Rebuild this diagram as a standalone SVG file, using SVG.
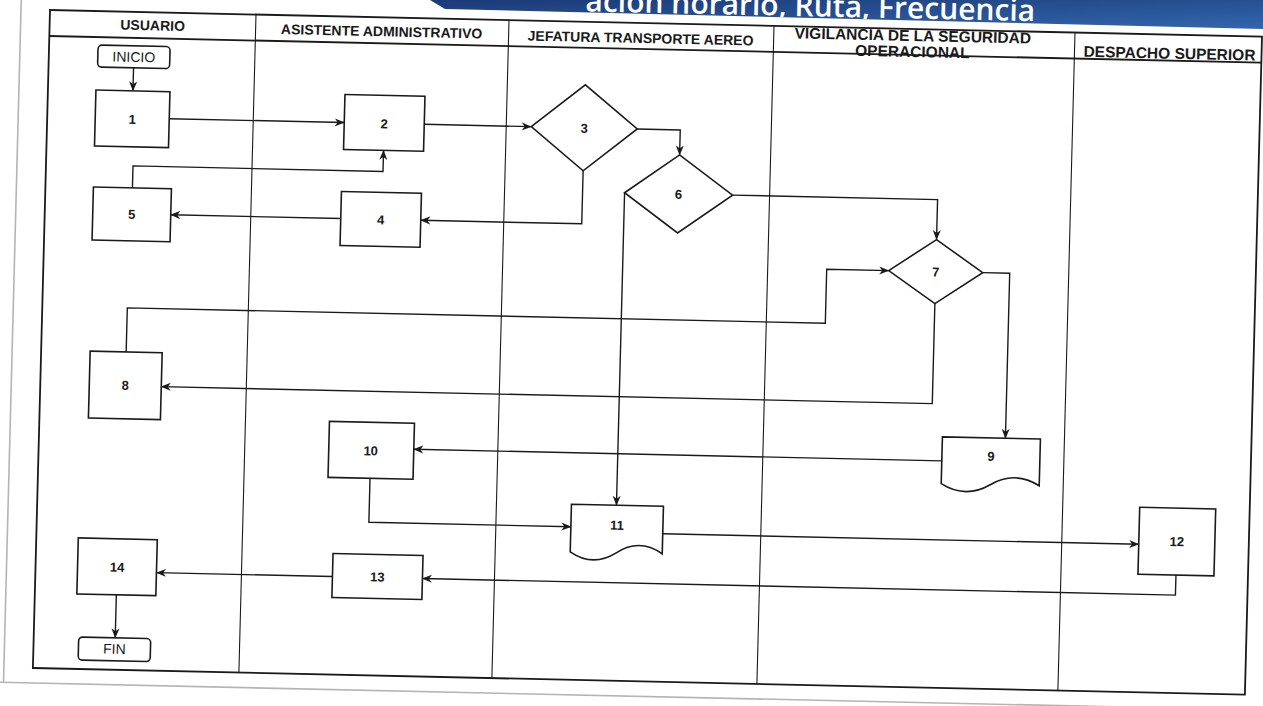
<svg xmlns="http://www.w3.org/2000/svg" width="1263" height="706" viewBox="0 0 1263 706">
<defs>
<style>
.frame{fill:none;stroke:#1a1a1a;stroke-width:1.8}
.lane{stroke:#1a1a1a;stroke-width:1.1;fill:none}
.edge{stroke:#b4b4b4;stroke-width:1.6;fill:none}
.shape{fill:#fff;stroke:#1a1a1a;stroke-width:1.6}
.conn{fill:none;stroke:#1a1a1a;stroke-width:1.4;marker-end:url(#arr)}
.hdr{font-family:"Liberation Sans",Arial,sans-serif;font-weight:bold;font-size:14px;fill:#1a1a1a;text-anchor:middle}
.hdr-lg{font-size:15.5px}
.lbl{font-family:"Liberation Sans",Arial,sans-serif;font-weight:bold;font-size:13px;fill:#1a1a1a;text-anchor:middle}
.term{font-family:"Liberation Sans",Arial,sans-serif;font-size:14px;fill:#1a1a1a;text-anchor:middle}
.title{font-family:"Open Sans","Noto Sans",sans-serif;font-weight:600;font-size:30px;fill:#ffffff}
</style>
<marker id="arr" viewBox="0 0 10 10" refX="9.5" refY="5" markerWidth="10" markerHeight="10" markerUnits="userSpaceOnUse" orient="auto">
<path d="M0,1 L10,5 L0,9 L3,5 Z" fill="#1a1a1a"/>
</marker>
<linearGradient id="bannerGrad" x1="0" y1="0" x2="1" y2="1">
<stop offset="0" stop-color="#1b3a78"/>
<stop offset="1" stop-color="#3266ad"/>
</linearGradient>
<clipPath id="bannerClip"><polygon points="430,0 1263,0 1263,29 445,9"/></clipPath>
</defs>
<rect x="0" y="0" width="1263" height="706" fill="#ffffff"/>
<g id="banner">
<polygon points="430,0 1263,0 1263,29 445,9" fill="url(#bannerGrad)"/>
<g clip-path="url(#bannerClip)">
<text class="title" x="1035" y="16" text-anchor="end" transform="rotate(1.26 800 16)">ación horario, Ruta, Frecuencia</text>
</g>
</g>
<g id="page" transform="matrix(1,0.022,-0.026,1,0.26,-1.1)">
<g id="page-edges">
<line class="edge" x1="21" y1="-5" x2="21" y2="683"/>
<line class="edge" x1="17" y1="683" x2="1262" y2="683"/>
</g>
<g id="pool">
<rect class="frame" x="50" y="10" width="1212" height="658"/>
<line class="frame" x1="50" y1="36" x2="1262" y2="36"/>
<line class="lane" x1="256" y1="10" x2="256" y2="668"/>
<line class="lane" x1="509" y1="10" x2="509" y2="668"/>
<line class="lane" x1="774" y1="10" x2="774" y2="668"/>
<line class="lane" x1="1075" y1="10" x2="1075" y2="668"/>
<text class="hdr" x="153" y="28">USUARIO</text>
<text class="hdr" x="382" y="29">ASISTENTE ADMINISTRATIVO</text>
<text class="hdr" x="641" y="30">JEFATURA TRANSPORTE AEREO</text>
<text class="hdr hdr-lg" x="913" y="22">VIGILANCIA DE LA SEGURIDAD</text>
<text class="hdr hdr-lg" x="913" y="38">OPERACIONAL</text>
<text class="hdr hdr-lg" x="1170" y="34">DESPACHO SUPERIOR</text>
</g>
<g id="connectors">
<path class="conn" d="M135,66 V89"/>
<path class="conn" d="M172,116 H347"/>
<path class="conn" d="M427,116 H534"/>
<path class="conn" d="M640,116 H683 V141"/>
<path class="conn" d="M587,159 V212 H426"/>
<path class="conn" d="M346,212 H176"/>
<path class="conn" d="M137,186 V164 H387 V143"/>
<path class="conn" d="M737,180 H942 V220"/>
<path class="conn" d="M135,350 V306 H833 V252 H895"/>
<path class="conn" d="M942,284 V384 H171"/>
<path class="conn" d="M989,252 H1016 V417"/>
<path class="conn" d="M953,441 H425"/>
<path class="conn" d="M629,180 V492.5"/>
<path class="conn" d="M382,471 V515 H584"/>
<path class="conn" d="M676,520 H1152"/>
<path class="conn" d="M1190,550 V570 H437"/>
<path class="conn" d="M347,570 H171"/>
<path class="conn" d="M131.5,593 V636"/>
</g>
<g id="n-inicio"><rect class="shape" x="99" y="44" width="72" height="22" rx="4"/><text class="term" x="135" y="60">INICIO</text></g>
<g id="n1"><rect class="shape" x="98" y="89" width="74" height="56"/><text class="lbl" x="135" y="122">1</text></g>
<g id="n2"><rect class="shape" x="347" y="88" width="80" height="55"/><text class="lbl" x="387" y="121">2</text></g>
<g id="n3"><polygon class="shape" points="534,116 587,73 640,116 587,159"/><text class="lbl" x="587" y="121">3</text></g>
<g id="n4"><rect class="shape" x="346" y="185" width="80" height="54"/><text class="lbl" x="386" y="217">4</text></g>
<g id="n5"><rect class="shape" x="98" y="186" width="78" height="53"/><text class="lbl" x="137" y="217">5</text></g>
<g id="n6"><polygon class="shape" points="629,180 683,141 737,180 683,219"/><text class="lbl" x="683" y="185">6</text></g>
<g id="n7"><polygon class="shape" points="895,252 942,220 989,252 942,284"/><text class="lbl" x="942" y="257">7</text></g>
<g id="n8"><rect class="shape" x="99" y="350" width="72" height="67"/><text class="lbl" x="135" y="388">8</text></g>
<g id="n9"><path class="shape" d="M953,417 H1051 V463.75 Q1026.5,448.9 1002,463.75 Q977.5,478.6 953,463.75 Z"/><text class="lbl" x="1002" y="440">9</text></g>
<g id="n10"><rect class="shape" x="340" y="415" width="85" height="56"/><text class="lbl" x="382" y="448">10</text></g>
<g id="n11"><path class="shape" d="M584,492.5 H676 V540.1 Q653,524.5 630,540.1 Q607,555.2 584,540.1 Z"/><text class="lbl" x="630" y="517">11</text></g>
<g id="n12"><rect class="shape" x="1152" y="483" width="76" height="67"/><text class="lbl" x="1190" y="521">12</text></g>
<g id="n13"><rect class="shape" x="347" y="547" width="90" height="44"/><text class="lbl" x="392" y="574">13</text></g>
<g id="n14"><rect class="shape" x="92" y="537" width="79" height="56"/><text class="lbl" x="131.5" y="570">14</text></g>
<g id="n-fin"><rect class="shape" x="95" y="636" width="72" height="23" rx="4"/><text class="term" x="131" y="652">FIN</text></g>
</g>
</svg>
